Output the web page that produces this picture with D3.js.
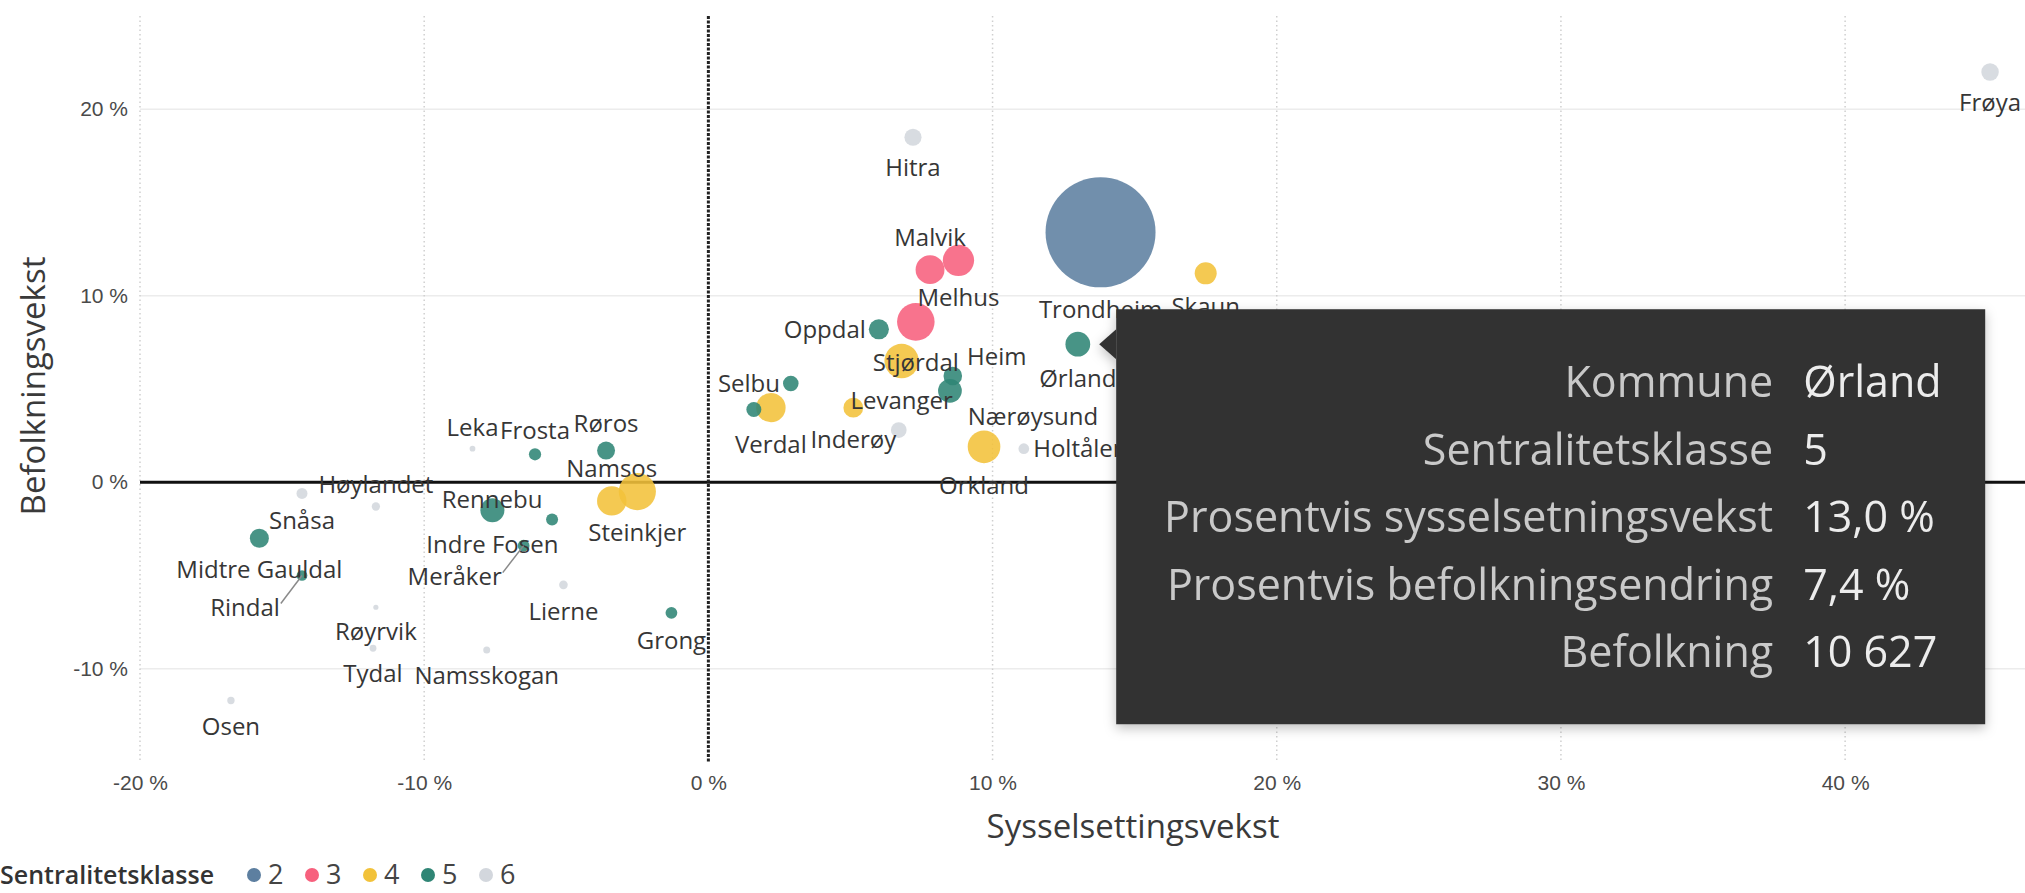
<!DOCTYPE html>
<html>
<head>
<meta charset="utf-8">
<script src="https://d3js.org/d3.v7.min.js"></script>
<style>
  body { margin: 0; background: #fff; }
  svg { display: block; font-family: "Segoe UI", "Open Sans", sans-serif; }
  .axis text { fill: #4a4a4a; font-size: 21px; }
  .axis path { display: none; }
  .lbl { fill: #363636; font-size: 24px; }
  .title { fill: #3a3a3a; font-size: 33px; }
</style>
</head>
<body>
<script>

// Kommuner i Trøndelag
var kommuner = ["Trondheim", "Stjørdal", "Steinkjer", "Levanger", "Orkland", "Melhus", "Verdal", "Namsos",
  "Malvik", "Ørland", "Indre Fosen", "Nærøysund", "Skaun", "Oppdal", "Inderøy", "Midtre Gauldal", "Heim",
  "Røros", "Frøya", "Hitra", "Åfjord", "Selbu", "Overhalla", "Frosta", "Rennebu", "Meråker", "Grong",
  "Snåsa", "Rindal", "Holtålen", "Lierne", "Høylandet", "Osen", "Namsskogan", "Tydal", "Leka", "Røyrvik"];
// Prosentvis sysselsetningsvekst
var sysselsetting = [13.8, 7.3, -2.5, 6.8, 9.7, 8.8, 2.2, -3.4,
  7.8, 13.0, -7.6, 8.5, 17.5, 6.0, 5.1, -15.8, 8.6,
  -3.6, 45.1, 7.2, 6.7, 2.9, 1.6, -6.1, -5.5, -6.5, -1.3,
  -14.3, -14.3, 11.1, -5.1, -11.7, -16.8, -7.8, -11.8, -8.3, -11.7];
// Prosentvis befolkningsendring
var befolkningsvekst = [13.4, 8.6, -0.5, 6.5, 1.9, 11.9, 4.0, -1.0,
  11.4, 7.4, -1.5, 4.9, 11.2, 8.2, 4.0, -3.0, 5.7,
  1.7, 22.0, 18.5, 2.8, 5.3, 3.9, 1.5, -2.0, -3.4, -7.0,
  -0.6, -5.0, 1.8, -5.5, -1.3, -11.7, -9.0, -8.9, 1.8, -6.7];
// Befolkning
var befolkning = [210000, 24500, 24000, 20500, 18500, 17000, 15000, 15000,
  14500, 10627, 10000, 9800, 8400, 7000, 6800, 6300, 6000,
  5600, 5300, 5100, 4300, 4200, 3900, 2600, 2500, 2400, 2400,
  2100, 2000, 2000, 1300, 1200, 950, 850, 800, 570, 460];
// Sentralitetsklasse
var klasse = [2, 3, 4, 4, 4, 3, 4, 4,
  3, 5, 5, 5, 4, 5, 4, 5, 5,
  5, 6, 6, 6, 5, 5, 5, 5, 5, 5,
  6, 5, 6, 6, 6, 6, 6, 6, 6, 6];

var klasser = [2, 3, 4, 5, 6];
var farger = ["#5d7fa0", "#f7607d", "#f2c23a", "#2f8575", "#d3d7dd"];
var xTicks = [-20, -10, 0, 10, 20, 30, 40];
var yTicks = [-10, 0, 10, 20];
var valgtKommune = "Ørland";

// plassering av dataetiketter: a = over, b = under, l = venstre, r = høyre, [dx, dy] = fri
var etikett = {
  "Trondheim": "b", "Stjørdal": "b", "Steinkjer": "b", "Levanger": "b", "Orkland": "b", "Melhus": "b",
  "Verdal": "b", "Namsos": "a", "Malvik": "a", "Ørland": "b", "Indre Fosen": "b", "Nærøysund": [83, 26],
  "Skaun": "b", "Oppdal": "l", "Inderøy": "b", "Midtre Gauldal": "b", "Heim": [44, -19], "Røros": "a",
  "Frøya": "b", "Hitra": "b", "Selbu": "l", "Frosta": "a", "Rennebu": [-60, -20], "Meråker": [-69, 31],
  "Grong": "b", "Snåsa": "b", "Rindal": [-57, 32], "Holtålen": "r", "Lierne": "b", "Høylandet": "a",
  "Osen": "b", "Namsskogan": "b", "Tydal": "b", "Leka": "a", "Røyrvik": "b"
};
var medLinje = ["Rindal", "Meråker"];

var w = 2025, h = 893;
var data = kommuner.map(function(k, i) {
  return { navn: k, sx: sysselsetting[i], by: befolkningsvekst[i], pop: befolkning[i], kl: klasse[i] };
});
data.sort(function(a, b) { return b.pop - a.pop; });

var xScale = d3.scaleLinear().domain([-20, 46.4]).range([140, 2027]);
var yScale = d3.scaleLinear().domain([-15, 25]).range([762, 16]);
var rScale = d3.scaleSqrt().domain([0, 210000]).range([0, 55]);
var colorScale = d3.scaleOrdinal().domain(klasser).range(farger);

var svg = d3.select("body").append("svg").attr("width", w).attr("height", h);

var defs = svg.append("defs");
defs.append("filter").attr("id", "skygge").attr("x", "-5%").attr("y", "-5%").attr("width", "112%").attr("height", "115%")
  .append("feDropShadow").attr("dx", 0).attr("dy", 4).attr("stdDeviation", 6).attr("flood-opacity", 0.25);

// rutenett
svg.append("g").selectAll("line").data(yTicks.filter(function(d) { return d !== 0; })).enter().append("line")
  .attr("x1", xScale(-20)).attr("x2", w)
  .attr("y1", function(d) { return yScale(d); }).attr("y2", function(d) { return yScale(d); })
  .attr("stroke", "#ececec").attr("stroke-width", 1.5);
svg.append("g").selectAll("line").data(xTicks.filter(function(d) { return d !== 0; })).enter().append("line")
  .attr("x1", function(d) { return xScale(d); }).attr("x2", function(d) { return xScale(d); })
  .attr("y1", yScale(25)).attr("y2", yScale(-15))
  .attr("stroke", "#cfcfcf").attr("stroke-width", 1.5).attr("stroke-dasharray", "1.5,3");

// nullinjer
svg.append("line").attr("x1", xScale(-20)).attr("x2", w).attr("y1", yScale(0)).attr("y2", yScale(0))
  .attr("stroke", "#111").attr("stroke-width", 3);
svg.append("line").attr("x1", xScale(0)).attr("x2", xScale(0)).attr("y1", yScale(25)).attr("y2", yScale(-15))
  .attr("stroke", "#222").attr("stroke-width", 3).attr("stroke-dasharray", "3,1.5");

// akser
var xAxis = d3.axisBottom(xScale).tickValues(xTicks).tickSize(0).tickPadding(0)
  .tickFormat(function(d) { return d + " %"; });
svg.append("g").attr("class", "axis").attr("transform", "translate(0,783)").call(xAxis)
  .selectAll("text").attr("y", 0).attr("dy", "0.35em");
var yAxis = d3.axisLeft(yScale).tickValues(yTicks).tickSize(0).tickPadding(0)
  .tickFormat(function(d) { return d + " %"; });
svg.append("g").attr("class", "axis").attr("transform", "translate(128,0)").call(yAxis)
  .selectAll("text").attr("x", 0);

svg.append("text").attr("class", "title").attr("x", 1133).attr("y", 826).attr("dy", "0.35em")
  .attr("text-anchor", "middle").text("Sysselsettingsvekst");
svg.append("text").attr("class", "title").attr("transform", "translate(33,386) rotate(-90)")
  .attr("dy", "0.35em").attr("text-anchor", "middle").text("Befolkningsvekst");

// bobler
svg.append("g").selectAll("circle").data(data).enter().append("circle")
  .attr("cx", function(d) { return xScale(d.sx); })
  .attr("cy", function(d) { return yScale(d.by); })
  .attr("r", function(d) { return rScale(d.pop); })
  .attr("fill", function(d) { return colorScale(d.kl); })
  .attr("fill-opacity", 0.88)
  .append("title").text(function(d) { return d.navn; });

// etiketter
function etikettPos(d) {
  var cx = xScale(d.sx), cy = yScale(d.by), r = rScale(d.pop), p = etikett[d.navn];
  if (Array.isArray(p)) return { x: cx + p[0], y: cy + p[1], a: "middle" };
  if (p === "a") return { x: cx, y: cy - r - 18, a: "middle" };
  if (p === "b") return { x: cx, y: cy + r + 22, a: "middle" };
  if (p === "l") return { x: cx - r - 3, y: cy, a: "end" };
  return { x: cx + r + 4, y: cy, a: "start" };
}
var merket = data.filter(function(d) { return etikett[d.navn]; });
var lblG = svg.append("g");
merket.forEach(function(d) {
  var p = etikettPos(d);
  var t = lblG.append("text").attr("class", "lbl").attr("x", p.x).attr("y", p.y).attr("dy", "0.35em")
    .attr("text-anchor", p.a).text(d.navn);
  if (medLinje.indexOf(d.navn) >= 0) {
    var tw = t.node().getComputedTextLength();
    lblG.append("line").attr("x1", p.x + tw / 2 + 1).attr("y1", p.y - 4)
      .attr("x2", xScale(d.sx)).attr("y2", yScale(d.by))
      .attr("stroke", "#8a8a8a").attr("stroke-width", 1.5);
  }
});

// forklaring
var legend = svg.append("g").attr("transform", "translate(0,875)");
legend.append("text").attr("x", 0).attr("dy", "0.35em").attr("fill", "#333")
  .attr("font-size", 25).attr("font-weight", 600).text("Sentralitetsklasse");
var item = legend.selectAll("g.item").data(klasser).enter().append("g").attr("class", "item")
  .attr("transform", function(d, i) { return "translate(" + (254 + i * 58) + ",0)"; });
item.append("circle").attr("r", 7).attr("fill", function(d) { return colorScale(d); });
item.append("text").attr("x", 14).attr("dy", "0.35em").attr("fill", "#444").attr("font-size", 27)
  .text(function(d) { return d; });

// verktøytips for valgt kommune
var valgt = data.filter(function(d) { return d.navn === valgtKommune; })[0];
var fmt1 = function(v) { return d3.format(".1f")(v).replace(".", ",") + " %"; };
var fmtPop = function(v) { return d3.format(",")(v).replace(/,/g, " "); };
var rader = [
  ["Kommune", valgt.navn],
  ["Sentralitetsklasse", valgt.kl],
  ["Prosentvis sysselsetningsvekst", fmt1(valgt.sx)],
  ["Prosentvis befolkningsendring", fmt1(valgt.by)],
  ["Befolkning", fmtPop(valgt.pop)]
];
var tipX = xScale(valgt.sx) + rScale(valgt.pop) + 9, tipY = yScale(valgt.by);
var boxX = tipX + 17, boxY = tipY - 35, boxW = 869, boxH = 415;
var tip = svg.append("g").attr("filter", "url(#skygge)");
tip.append("rect").attr("x", boxX).attr("y", boxY).attr("width", boxW).attr("height", boxH).attr("fill", "#333333");
tip.append("path").attr("d", "M" + boxX + "," + (tipY - 15) + "L" + tipX + "," + tipY + "L" + boxX + "," + (tipY + 15) + "Z")
  .attr("fill", "#333333");
var rad = tip.selectAll("g.rad").data(rader).enter().append("g").attr("class", "rad")
  .attr("transform", function(d, i) { return "translate(0," + (boxY + 73 + i * 67.5) + ")"; });
rad.append("text").attr("x", boxX + 657).attr("dy", "0.35em").attr("text-anchor", "end")
  .attr("font-size", 43).attr("fill", "#c9c9c9").text(function(d) { return d[0]; });
rad.append("text").attr("x", boxX + 687).attr("dy", "0.35em")
  .attr("font-size", 43).attr("fill", "#ececec").text(function(d) { return d[1]; });

</script>
</body>
</html>
